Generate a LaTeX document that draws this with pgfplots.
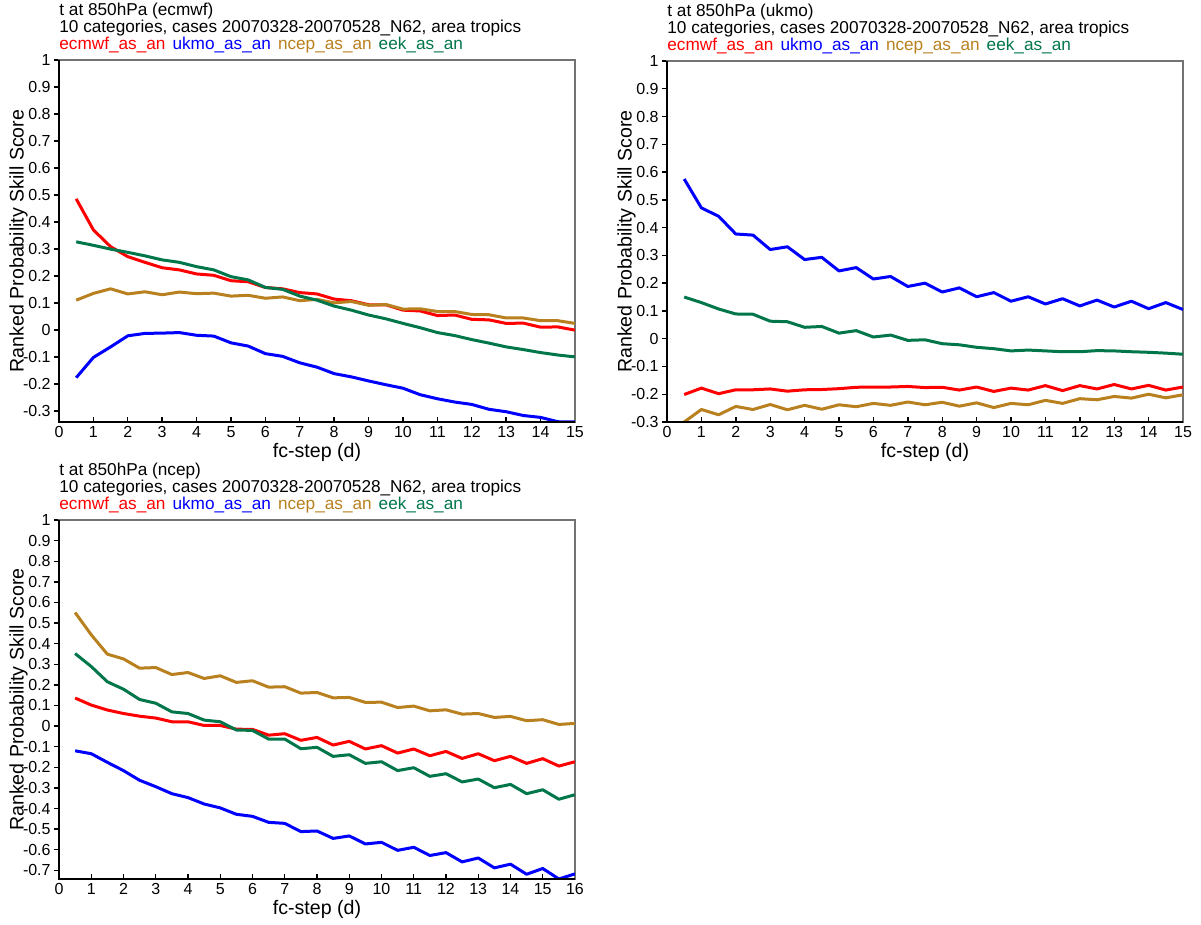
\documentclass[border=0pt]{standalone}
\usepackage{fontspec}
\setmainfont{Liberation Sans}
\usepackage{pgfplots}
\usepackage{pgfplotstable}
\pgfplotsset{compat=1.18}

\definecolor{cecm}{RGB}{255,0,0}
\definecolor{cukm}{RGB}{0,0,255}
\definecolor{cncp}{RGB}{184,128,30}
\definecolor{ceek}{RGB}{0,118,74}

% panel (ecmwf)
\pgfplotstableread{
x    ecmwf   ukmo    ncep   eek
0.5  0.486  -0.176   0.111  0.327
1    0.371  -0.101   0.136  0.314
1.5  0.309  -0.062   0.153  0.300
2    0.272  -0.021   0.134  0.288
2.5  0.251  -0.012   0.142  0.275
3    0.231  -0.011   0.131  0.260
3.5  0.223  -0.009   0.141  0.251
4    0.208  -0.019   0.135  0.235
4.5  0.203  -0.022   0.137  0.223
5    0.183  -0.047   0.126  0.198
5.5  0.179  -0.059   0.129  0.186
6    0.158  -0.087   0.118  0.158
6.5  0.153  -0.097   0.123  0.151
7    0.139  -0.121   0.109  0.126
7.5  0.134  -0.137   0.114  0.111
8    0.115  -0.161   0.101  0.089
8.5  0.109  -0.173   0.106  0.074
9    0.094  -0.188   0.092  0.056
9.5  0.094  -0.202   0.095  0.042
10   0.074  -0.215   0.078  0.025
10.5 0.071  -0.239   0.079  0.009
11   0.054  -0.254   0.069 -0.009
11.5 0.056  -0.266   0.069 -0.020
12   0.040  -0.275   0.058 -0.035
12.5 0.038  -0.293   0.057 -0.048
13   0.025  -0.302   0.045 -0.062
13.5 0.026  -0.316   0.045 -0.072
14   0.011  -0.323   0.035 -0.083
14.5 0.012  -0.339   0.035 -0.092
15   0.000  -0.340   0.025 -0.099
}\tecmwf

% panel (ukmo)
\pgfplotstableread{
x    ecmwf   ukmo    ncep    eek
0.5 -0.201   0.575  -0.300   0.150
1   -0.178   0.471  -0.255   0.130
1.5 -0.198   0.441  -0.274   0.107
2   -0.184   0.377  -0.244   0.089
2.5 -0.184   0.373  -0.255   0.088
3   -0.181   0.321  -0.237   0.063
3.5 -0.189   0.331  -0.256   0.061
4   -0.184   0.285  -0.240   0.041
4.5 -0.183   0.293  -0.254   0.044
5   -0.180   0.244  -0.238   0.020
5.5 -0.175   0.256  -0.245   0.029
6   -0.174   0.215  -0.233   0.006
6.5 -0.174   0.224  -0.240   0.013
7   -0.172   0.188  -0.228  -0.006
7.5 -0.176   0.200  -0.238  -0.004
8   -0.175   0.168  -0.229  -0.018
8.5 -0.185   0.183  -0.243  -0.022
9   -0.174   0.151  -0.231  -0.031
9.5 -0.190   0.166  -0.248  -0.036
10  -0.178   0.135  -0.233  -0.044
10.5 -0.185  0.151  -0.238  -0.041
11  -0.169   0.125  -0.222  -0.044
11.5 -0.187  0.144  -0.233  -0.047
12  -0.169   0.118  -0.216  -0.047
12.5 -0.181  0.139  -0.220  -0.043
13  -0.165   0.114  -0.208  -0.044
13.5 -0.181  0.135  -0.214  -0.047
14  -0.168   0.108  -0.200  -0.049
14.5 -0.185  0.130  -0.213  -0.052
15  -0.174   0.105  -0.202  -0.056
}\tukmo

% panel (ncep)
\pgfplotstableread{
x    ecmwf   ukmo    ncep    eek
0.5  0.136  -0.120   0.551   0.352
1    0.102  -0.134   0.443   0.289
1.5  0.078  -0.176   0.349   0.215
2    0.061  -0.216   0.326   0.179
2.5  0.048  -0.263   0.281   0.129
3    0.039  -0.294   0.284   0.111
3.5  0.021  -0.328   0.250   0.069
4    0.021  -0.347   0.260   0.061
4.5  0.003  -0.378   0.231   0.029
5    0.003  -0.397   0.244   0.021
5.5 -0.015  -0.428   0.212  -0.019
6   -0.016  -0.438   0.220  -0.021
6.5 -0.044  -0.467   0.189  -0.063
7   -0.037  -0.472   0.191  -0.063
7.5 -0.069  -0.512   0.160  -0.110
8   -0.055  -0.509   0.163  -0.103
8.5 -0.092  -0.545   0.137  -0.147
9   -0.074  -0.533   0.139  -0.139
9.5 -0.111  -0.572   0.115  -0.181
10  -0.095  -0.564   0.116  -0.173
10.5 -0.131 -0.603   0.090  -0.216
11  -0.111  -0.588   0.097  -0.202
11.5 -0.144 -0.628   0.074  -0.244
12  -0.123  -0.614   0.079  -0.231
12.5 -0.157 -0.659   0.058  -0.271
13  -0.134  -0.640   0.061  -0.257
13.5 -0.168 -0.688   0.042  -0.299
14  -0.147  -0.670   0.047  -0.283
14.5 -0.181 -0.719   0.026  -0.328
15  -0.158  -0.691   0.031  -0.309
15.5 -0.194 -0.742   0.008  -0.355
16  -0.173  -0.717   0.013  -0.333
}\tncep

\pgfplotsset{
  panel/.style={
    scale only axis,
    width=258pt,
    xmin=0,
    clip mode=individual,
    axis line style={draw=black!55, line width=0.75pt},
    tick pos=left,
    xtick align=inside,
    ytick align=outside,
    major tick length=2.5pt,
    tick style={black, line width=0.7pt},
    /pgf/number format/assume math mode=true,
    scaled ticks=false,
    yticklabel style={font=\fontsize{8}{8}\selectfont, inner sep=1.5pt,
      /pgf/number format/fixed, /pgf/number format/precision=1},
    xticklabel style={font=\fontsize{8}{8}\selectfont, inner sep=2.2pt},
    xlabel={fc-step (d)},
    ylabel={Ranked Probability Skill Score},
    label style={font=\fontsize{9.8}{10}\selectfont, inner sep=0pt},
    xlabel style={at={(axis description cs:0.5,0)}, anchor=north, yshift=-10.5pt},
    ylabel style={at={(axis description cs:-0.060,0.5)}, anchor=south},
    title style={at={(rel axis cs:0,1)}, anchor=south west, align=left,
      inner sep=0pt, yshift=-2.9pt, font=\fontsize{8.6}{8.6}\selectfont},
    every axis plot/.append style={line width=1.5pt, line join=round, mark=none},
  },
}
\newcommand{\leg}{\textcolor{cecm}{ecmwf\_as\_an}\hspace{3.5pt}\textcolor{cukm}{ukmo\_as\_an}\hspace{3.5pt}\textcolor{cncp}{ncep\_as\_an}\hspace{3.5pt}\textcolor{ceek}{eek\_as\_an}}
\newcommand{\frameLB}{\draw[black, line width=0.75pt] (rel axis cs:0,1) -- (rel axis cs:0,0) -- (rel axis cs:1,0);}

\begin{document}
\begin{tikzpicture}
\path[use as bounding box] (0,0) rectangle (600.5pt,-462.5pt);

\begin{axis}[panel,
  at={(29.5pt,-211pt)}, anchor=south west,
  height=181pt,
  xmax=15, xtick={0,1,...,15},
  ymin=-0.34, ymax=1,
  ytick={-0.3,-0.2,-0.1,0,0.1,0.2,0.3,0.4,0.5,0.6,0.7,0.8,0.9,1},
  title={t at 850hPa (ecmwf)\\10 categories, cases 20070328-20070528\_N62, area tropics\\\leg},
]
\addplot[cecm] table[x=x, y=ecmwf] {\tecmwf};
\addplot[cukm] table[x=x, y=ukmo] {\tecmwf};
\addplot[cncp] table[x=x, y=ncep] {\tecmwf};
\addplot[ceek] table[x=x, y=eek] {\tecmwf};
\frameLB
\end{axis}

\begin{axis}[panel,
  at={(333.5pt,-211pt)}, anchor=south west,
  height=180.5pt,
  xmax=15, xtick={0,1,...,15},
  ymin=-0.3, ymax=1,
  ytick={-0.3,-0.2,-0.1,0,0.1,0.2,0.3,0.4,0.5,0.6,0.7,0.8,0.9,1},
  title={t at 850hPa (ukmo)\\10 categories, cases 20070328-20070528\_N62, area tropics\\\leg},
]
\addplot[cecm] table[x=x, y=ecmwf] {\tukmo};
\addplot[cukm] table[x=x, y=ukmo] {\tukmo};
\addplot[cncp] table[x=x, y=ncep] {\tukmo};
\addplot[ceek] table[x=x, y=eek] {\tukmo};
\frameLB
\end{axis}

\begin{axis}[panel,
  at={(29.5pt,-439.5pt)}, anchor=south west,
  height=179.5pt,
  xmax=16, xtick={0,1,...,16},
  ymin=-0.742, ymax=1,
  ytick={-0.7,-0.6,-0.5,-0.4,-0.3,-0.2,-0.1,0,0.1,0.2,0.3,0.4,0.5,0.6,0.7,0.8,0.9,1},
  title={t at 850hPa (ncep)\\10 categories, cases 20070328-20070528\_N62, area tropics\\\leg},
]
\addplot[cecm] table[x=x, y=ecmwf] {\tncep};
\addplot[cukm] table[x=x, y=ukmo] {\tncep};
\addplot[cncp] table[x=x, y=ncep] {\tncep};
\addplot[ceek] table[x=x, y=eek] {\tncep};
\frameLB
\end{axis}
\end{tikzpicture}
\end{document}
